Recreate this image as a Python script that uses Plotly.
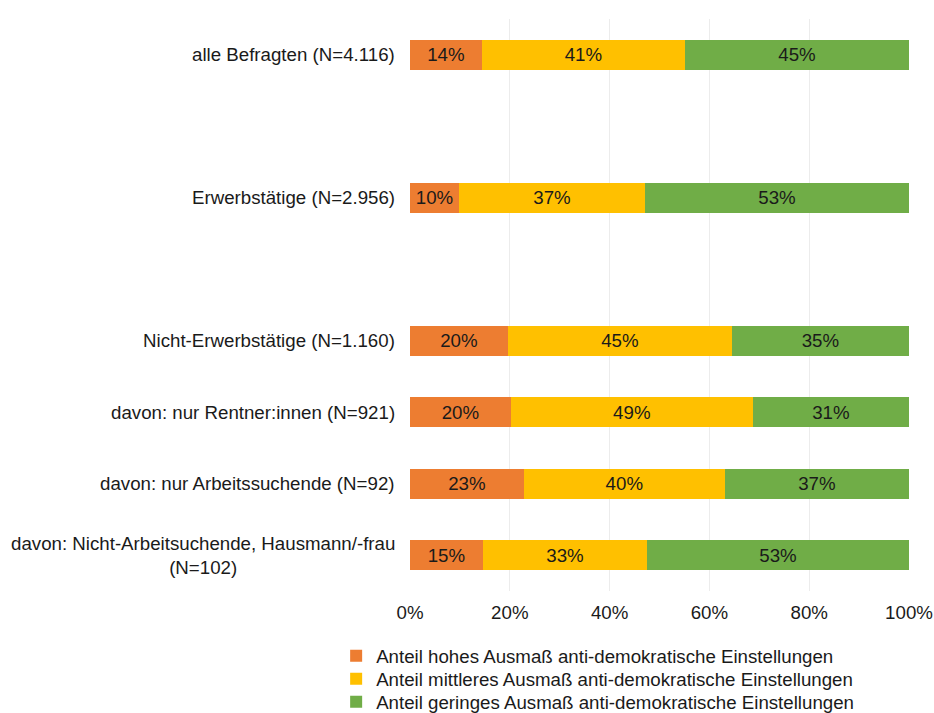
import plotly.graph_objects as go

categories = [
    "alle Befragten (N=4.116)",
    " ",
    "Erwerbstätige (N=2.956)",
    "  ",
    "Nicht-Erwerbstätige (N=1.160)",
    "davon: nur Rentner:innen (N=921)",
    "davon: nur Arbeitssuchende (N=92)",
    "davon: Nicht-Arbeitsuchende, Hausmann/-frau<br>(N=102)",
]
hoch = [14.4, None, 9.8, None, 19.6, 20.2, 22.8, 14.6]
mittel = [40.7, None, 37.3, None, 44.9, 48.5, 40.3, 32.9]
gering = [44.9, None, 52.9, None, 35.5, 31.3, 36.9, 52.5]
hoch_lbl = ["14%", "", "10%", "", "20%", "20%", "23%", "15%"]
mittel_lbl = ["41%", "", "37%", "", "45%", "49%", "40%", "33%"]
gering_lbl = ["45%", "", "53%", "", "35%", "31%", "37%", "53%"]
series_names = [
    "Anteil hohes Ausmaß anti-demokratische Einstellungen",
    "Anteil mittleres Ausmaß anti-demokratische Einstellungen",
    "Anteil geringes Ausmaß anti-demokratische Einstellungen",
]
colors = ["#ED7D31", "#FFC000", "#70AD47"]
x_ticks = [0, 20, 40, 60, 80, 100]
x_tick_labels = ["0%", "20%", "40%", "60%", "80%", "100%"]

FONT = "Liberation Sans, Arial, sans-serif"
FS = 18.7
TXT = "#1a1a1a"

legend_ids = ["legend", "legend2", "legend3"]

fig = go.Figure()
for vals, lbls, name, col, lg in zip([hoch, mittel, gering], [hoch_lbl, mittel_lbl, gering_lbl],
                                      series_names, colors, legend_ids):
    fig.add_trace(go.Bar(
        y=categories, x=vals, name=name, orientation="h",
        marker=dict(color=col, line=dict(width=0)),
        text=lbls, textposition="inside", insidetextanchor="middle",
        textfont=dict(size=FS, color=TXT, family=FONT),
        width=0.42, hoverinfo="x+name", legend=lg,
    ))

for cat in categories:
    if cat.strip():
        fig.add_annotation(
            x=0, xref="paper", y=cat, yref="y", text=cat,
            xanchor="right", yanchor="middle", align="center", xshift=-13,
            showarrow=False, font=dict(size=FS, color=TXT, family=FONT),
        )

legend_style = dict(orientation="v", x=-0.148, xanchor="left", yanchor="middle",
                    font=dict(size=FS, color=TXT, family=FONT), itemwidth=30,
                    bgcolor="rgba(0,0,0,0)", borderwidth=0)

fig.update_layout(
    barmode="stack",
    width=934, height=713,
    margin=dict(l=410, r=25, t=19, b=122, autoexpand=False),
    paper_bgcolor="white", plot_bgcolor="white",
    font=dict(family=FONT, size=FS, color=TXT),
    xaxis=dict(range=[0, 100], tickvals=x_ticks, ticktext=x_tick_labels, automargin=False,
               showgrid=True, gridcolor="#ececec", gridwidth=1, zeroline=False,
               showline=False, ticks="outside", ticklen=5, tickcolor="rgba(0,0,0,0)",
               tickfont=dict(size=FS, color=TXT, family=FONT)),
    yaxis=dict(categoryorder="array", categoryarray=categories, autorange="reversed",
               automargin=False,
               showticklabels=False, showgrid=False, zeroline=False, showline=False, ticks=""),
    legend=dict(legend_style, y=-0.1136),
    legend2=dict(legend_style, y=-0.1538),
    legend3=dict(legend_style, y=-0.1941),
    showlegend=True,
)

fig.write_html(
    "out.html",
    config={"displayModeBar": False},
    post_script="document.body.style.margin='0';document.documentElement.style.overflow='hidden';",
)
